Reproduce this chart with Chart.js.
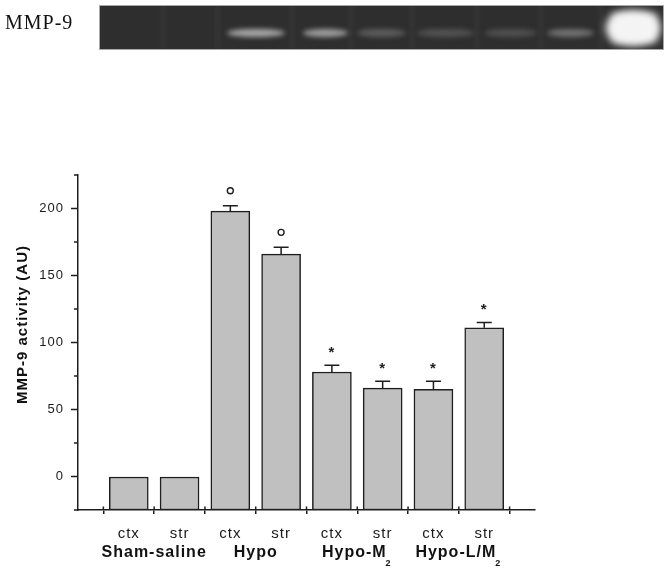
<!DOCTYPE html>
<html><head><meta charset="utf-8">
<script src="https://cdn.jsdelivr.net/npm/chart.js@4.4.1/dist/chart.umd.min.js"></script>
<style>html,body{margin:0;padding:0;background:#fff}#wrap{width:669px;height:570px;position:relative}</style>
</head><body><div id="wrap"><canvas id="c" width="669" height="570"></canvas></div>
<script>
// ---- data ----
const regions = ['ctx','str','ctx','str','ctx','str','ctx','str'];
const groups = ['Sham-saline','Hypo','Hypo-M','Hypo-L/M'];
const groupSubs = ['','','2','2'];
const activity = [0,0,198,166,78,66,65,111];
const sem = [0,0,4,5,5,5,6,4];
const significance = ['','','o','o','*','*','*','*'];
const yMajorTicks = [0,50,100,150,200];
const yMinorTicks = [-25,25,75,125,175,225];
const yAxisTitle = 'MMP-9 activity (AU)';
const blotLabel = 'MMP-9';
const blotIntensity = [0,0,0.72,0.66,0.28,0.22,0.2,0.4];

const yMin = -25, yMax = 225;
const xBoundaries = regions.map((r,i)=>i+0.5).concat([regions.length+0.5]);
const INK = '#1e1e1e';

const blotPlugin = {
  id:'blot',
  beforeDraw(chart){
    const ctx = chart.ctx;
    const g = {x:99,y:5,w:565,h:45};
    const bandX = [[227,285],[303,348],[357,406],[417,474],[484,537],[547,594]];
    const streaks = [163,218,292,351,412,477,541,601];
    ctx.save();
    ctx.fillStyle = '#2e2e2e';
    ctx.fillRect(g.x,g.y,g.w,g.h);
    ctx.beginPath(); ctx.rect(g.x,g.y,g.w,g.h); ctx.clip();
    ctx.filter = 'blur(2px)';
    streaks.forEach(x=>{ctx.fillStyle='rgba(255,255,255,0.06)'; ctx.fillRect(x-1.5,g.y,3,g.h);});
    const bandVals = blotIntensity.slice(2);
    ctx.filter = 'blur(2.5px)';
    bandX.forEach((b,i)=>{
      const c = Math.round(46 + (215-46)*bandVals[i]);
      ctx.fillStyle = `rgb(${c},${c},${c})`;
      ctx.beginPath();
      ctx.ellipse((b[0]+b[1])/2, 33, (b[1]-b[0])/2, 4, 0, 0, Math.PI*2);
      ctx.fill();
    });
    ctx.filter = 'blur(4px)';
    ctx.fillStyle = '#f4f4f4';
    ctx.beginPath();
    ctx.ellipse(633,28,27,17,0,0,Math.PI*2);
    ctx.fill();
    ctx.fillRect(612,14,44,28);
    ctx.filter = 'none';
    ctx.restore();
    ctx.save();
    ctx.strokeStyle = '#a8a8a8'; ctx.lineWidth = 1;
    ctx.strokeRect(g.x+0.5,g.y+0.5,g.w-1,g.h-1);
    ctx.fillStyle = '#111';
    ctx.font = '20px "Liberation Serif", "Times New Roman", serif';
    ctx.letterSpacing = '1px';
    ctx.textBaseline = 'alphabetic';
    ctx.fillText(blotLabel, 5, 29);
    ctx.restore();
    ctx.letterSpacing = '1px';
  }
};

const marksPlugin = {
  id:'marks',
  afterDatasetsDraw(chart){
    const ctx = chart.ctx, xs = chart.scales.x, ys = chart.scales.y;
    ctx.save();
    ctx.strokeStyle = INK; ctx.fillStyle = INK; ctx.lineWidth = 1.5;
    activity.forEach((v,i)=>{
      const px = xs.getPixelForValue(i+1);
      const top = ys.getPixelForValue(v);
      const cap = ys.getPixelForValue(v+sem[i]);
      if (sem[i] > 0){
        ctx.beginPath();
        ctx.moveTo(px,top); ctx.lineTo(px,cap);
        ctx.moveTo(px-7.5,cap); ctx.lineTo(px+7.5,cap);
        ctx.stroke();
      }
      const cy = cap - 15;
      if (significance[i] === 'o'){
        ctx.beginPath(); ctx.lineWidth = 1.4;
        ctx.arc(px, cy, 3, 0, Math.PI*2); ctx.stroke(); ctx.lineWidth = 1.5;
      } else if (significance[i]){
        ctx.font = 'bold 15px "Liberation Sans", Arial, sans-serif';
        ctx.textAlign = 'center'; ctx.textBaseline = 'alphabetic';
        const m = ctx.measureText(significance[i]);
        const by = cy + (m.actualBoundingBoxAscent - m.actualBoundingBoxDescent)/2;
        ctx.fillText(significance[i], px, by);
      }
    });
    const axX = ys.right;
    ctx.beginPath();
    yMinorTicks.forEach(v=>{
      const py = ys.getPixelForValue(v);
      ctx.moveTo(axX-4, py); ctx.lineTo(axX, py);
    });
    const axY = xs.top;
    xBoundaries.forEach(v=>{
      const px = xs.getPixelForValue(v);
      ctx.moveTo(px, axY-3.5); ctx.lineTo(px, axY);
    });
    ctx.stroke();
    ctx.restore();
  },
  afterDraw(chart){
    const ctx = chart.ctx, xs = chart.scales.x;
    ctx.save();
    ctx.fillStyle = '#111';
    ctx.letterSpacing = '1px';
    ctx.textBaseline = 'alphabetic';
    groups.forEach((g,i)=>{
      const cx = xs.getPixelForValue(2*i+1.5);
      ctx.font = 'bold 16px "Liberation Sans", Arial, sans-serif';
      const w1 = ctx.measureText(g).width;
      ctx.font = 'bold 9px "Liberation Sans", Arial, sans-serif';
      const w2 = groupSubs[i] ? ctx.measureText(groupSubs[i]).width : 0;
      const sx = cx - (w1+w2)/2;
      ctx.font = 'bold 16px "Liberation Sans", Arial, sans-serif';
      ctx.textAlign = 'left';
      ctx.fillText(g, sx, 557);
      if (groupSubs[i]){
        ctx.font = 'bold 9px "Liberation Sans", Arial, sans-serif';
        ctx.fillText(groupSubs[i], sx+w1-1, 566);
      }
    });
    ctx.translate(27, 324.5);
    ctx.rotate(-Math.PI/2);
    ctx.textAlign = 'center';
    ctx.font = 'bold 15px "Liberation Sans", Arial, sans-serif';
    ctx.fillText(yAxisTitle, 0, 0);
    ctx.restore();
    ctx.letterSpacing = '0px';
  }
};

new Chart(document.getElementById('c'), {
  type:'bar',
  data:{datasets:[{
    data: activity.map((v,i)=>({x:i+1, y:[yMin, v]})),
    backgroundColor:'#c0c0c0',
    borderColor:INK,
    borderWidth:1.5,
    borderSkipped:false,
    barThickness:39
  }]},
  options:{
    responsive:false,
    animation:false,
    devicePixelRatio:1,
    layout:{padding:{left:0,right:134,top:175,bottom:0}},
    plugins:{legend:{display:false}, tooltip:{enabled:false}},
    scales:{
      x:{
        type:'linear', min:0, max:9, weight:0, position:'bottom', offset:false,
        afterBuildTicks: s=>{ s.ticks = xBoundaries.map(v=>({value:v})); },
        afterFit: s=>{ s.height = 6; },
        ticks:{display:false},
        grid:{drawOnChartArea:false, offset:false, tickLength:4, color:INK, lineWidth:1.5},
        border:{color:INK, width:1.5}
      },
      x2:{
        type:'linear', min:0, max:9, weight:1, position:'bottom', offset:false,
        afterBuildTicks: s=>{ s.ticks = regions.map((r,i)=>({value:i+1})); },
        afterFit: s=>{ s.height = 54; },
        ticks:{
          callback: v => regions[Math.round(v)-1] ?? '',
          font:{family:'"Liberation Sans", Arial, sans-serif', size:15},
          color:'#1a1a1a', padding:1, maxRotation:0, autoSkip:false
        },
        grid:{display:false, offset:false},
        border:{display:false}
      },
      y:{
        min:yMin, max:yMax,
        afterBuildTicks: s=>{ s.ticks = yMinorTicks.concat(yMajorTicks).sort((a,b)=>a-b).map(v=>({value:v})); },
        afterFit: s=>{ s.width = 78; },
        ticks:{
          callback: v => yMajorTicks.includes(v) ? String(v) : '',
          font:{family:'"Liberation Sans", Arial, sans-serif', size:13},
          color:'#1a1a1a', padding:7, autoSkip:false
        },
        grid:{
          drawOnChartArea:false, tickLength:7, tickWidth:1.5,
          tickColor: c => (c.tick && yMajorTicks.includes(c.tick.value)) ? INK : 'rgba(0,0,0,0)'
        },
        border:{color:INK, width:1.5}
      }
    }
  },
  plugins:[blotPlugin, marksPlugin]
});
</script>
</body></html>
